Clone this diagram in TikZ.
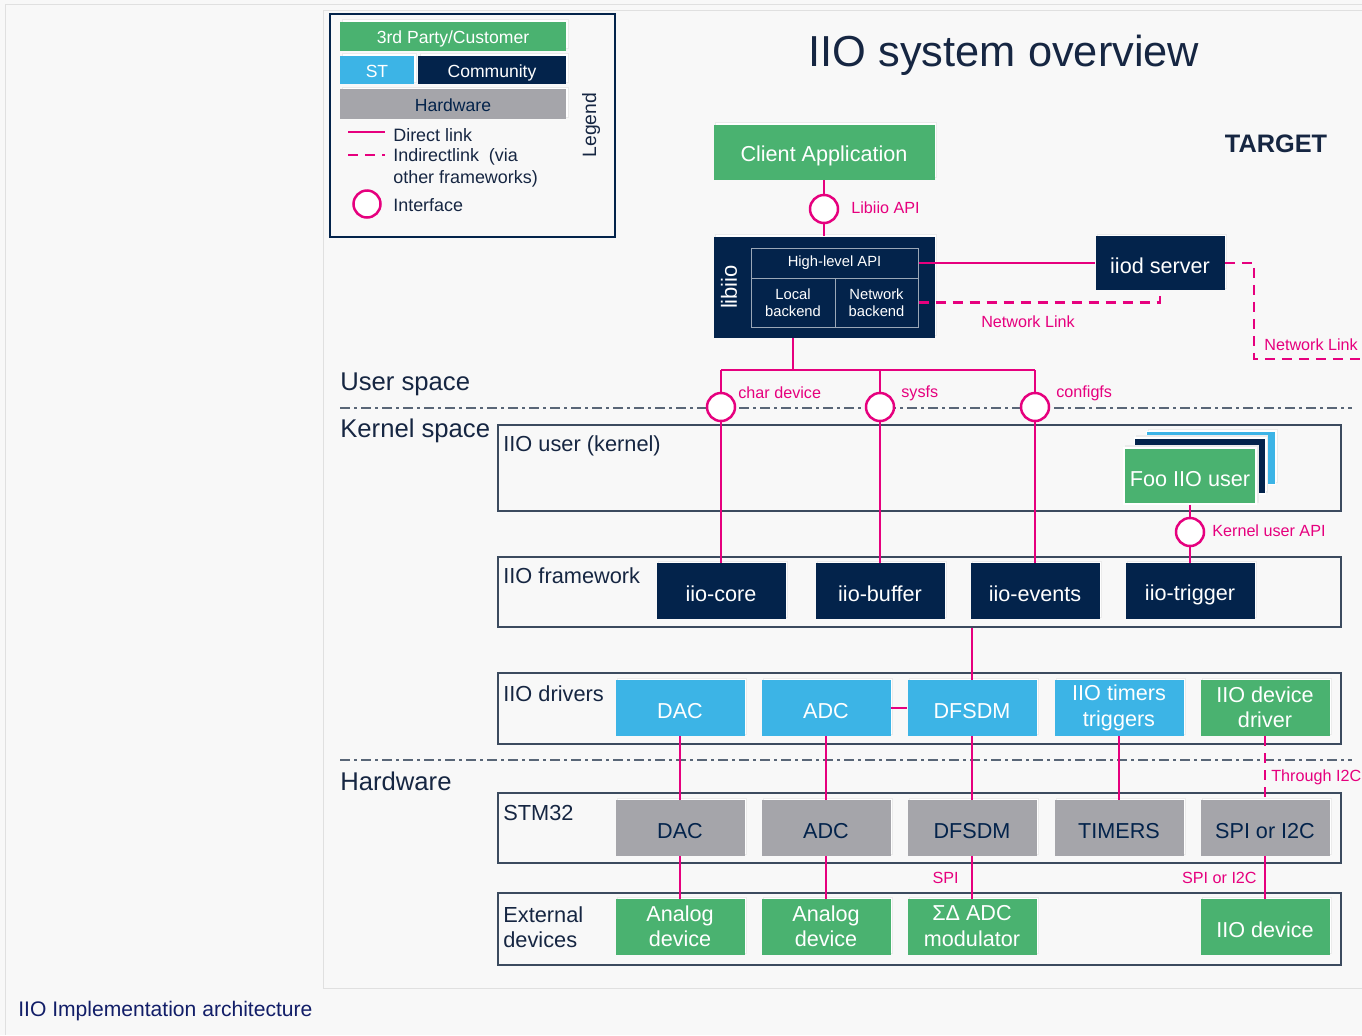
\documentclass[tikz,border=0pt]{standalone}
\usepackage{fontspec}
\setmainfont{Liberation Sans}
\usetikzlibrary{fit,shadows}
\newlength{\px}\setlength{\px}{0.02cm}
\newcommand{\topstrut}{\rule{0pt}{13.3pt}}
\newcommand{\botstrut}{\rule[-1.1pt]{0pt}{0pt}}
\newcommand{\legtop}{\rule{0pt}{11.6pt}}
\newcommand{\legbot}{\rule[-2.8pt]{0pt}{0pt}}
\newcommand{\talltop}{\rule{0pt}{17.5pt}}
\definecolor{stgreen}{RGB}{74,178,112}
\definecolor{stblue}{RGB}{60,180,230}
\definecolor{stnavy}{RGB}{3,35,75}
\definecolor{hwgray}{RGB}{165,165,170}
\definecolor{linkpink}{RGB}{230,0,126}
\definecolor{framegray}{RGB}{60,75,95}
\definecolor{bggray}{RGB}{248,248,248}
\definecolor{inktext}{RGB}{22,38,66}
\begin{document}
\begin{tikzpicture}[x=0.02cm, y=-0.02cm,
  box/.style={rectangle, minimum width=129\px, minimum height=56\px, inner sep=1pt, align=center,
    font=\fontsize{12.3}{14.5}\selectfont, execute at begin node=\topstrut, execute at end node=\botstrut,
    general shadow={fill=white, draw=black!8, shadow xshift=2\px, shadow yshift=2\px}},
  legbox/.style={font=\fontsize{10}{11}\selectfont, /utils/exec={\let\topstrut\legtop\let\botstrut\legbot}},
  two/.style={/utils/exec={\let\topstrut\talltop}},
  st/.style={box, fill=stblue, text=white},
  com/.style={box, fill=stnavy, text=white},
  cust/.style={box, fill=stgreen, text=white},
  hw/.style={box, fill=hwgray, text=stnavy},
  sub/.style={rectangle, draw=white!60!stnavy, line width=1\px, inner sep=0pt, align=center,
    text=white, font=\fontsize{8.4}{9.8}\selectfont},
  frame/.style={draw=framegray, line width=1.5\px, inner sep=0pt},
  lbl/.style={anchor=west, text=inktext, font=\fontsize{12.4}{14.5}\selectfont, inner sep=0pt},
  space/.style={anchor=west, text=inktext, font=\fontsize{14.6}{16}\selectfont, inner sep=0pt},
  leg/.style={anchor=west, text=inktext, font=\fontsize{10.2}{12.5}\selectfont, inner sep=0pt, align=left},
  link/.style={draw=linkpink, line width=2.5\px},
  ilink/.style={link, dash pattern=on 10\px off 7\px},
  itf/.style={circle, draw=linkpink, fill=white, line width=2.5\px, minimum size=28\px, inner sep=0pt},
  tag/.style={text=linkpink, font=\fontsize{9.2}{10.5}\selectfont, inner sep=0pt},
  sep/.style={draw=framegray!85, line width=1.5\px, dash pattern=on 10\px off 4\px on 3\px off 4\px}]

\useasboundingbox (0,0) rectangle (1362,1035);
\path[fill=bggray] (0,0) rectangle (1362,1035);
\path[draw=black!12] (5,1035) -- (5,4) -- (1362,4);
\path[draw=black!12] (1370,10) -- (323,10) -- (323,988) -- (1370,988);

\node[frame, draw=stnavy, line width=2.5\px, fit={(330,14) (615,237)}] (legend) {};
\node[cust, legbox, minimum width=226\px, minimum height=29\px] (l1) at (453,36) {3rd Party/Customer};
\node[st, legbox, minimum width=74\px, minimum height=28\px] (l2) at (377,70) {ST};
\node[com, legbox, minimum width=148\px, minimum height=28\px] (l3) at (492,70) {Community};
\node[hw, legbox, minimum width=226\px, minimum height=30\px] (l4) at (453,104) {Hardware};
\coordinate (d1) at (348,132);
\coordinate (d2) at (385,132);
\coordinate (d3) at (348,155);
\coordinate (d4) at (385,155);
\path[link] (d1) -- (d2);
\path[ilink] (d3) -- (d4);
\node[leg] at (393,135) {Direct link};
\node[leg] at (393,168) {Indirectlink~~(via\\other frameworks)};
\node[itf, minimum size=27\px] (l5) at (367,204) {};
\node[leg] at (393,205) {Interface};
\node[rotate=90, text=inktext, font=\fontsize{11}{13}\selectfont] at (591,125) {Legend};

\node[text=inktext, font=\fontsize{24.7}{28}\selectfont] at (1004,55) {IIO system overview};
\node[text=inktext, font=\bfseries\fontsize{14.4}{16}\selectfont] at (1276,144) {TARGET};

\node[cust, minimum width=221\px, minimum height=55\px] (app) at (824,152) {Client Application};
\node[itf] (api) at (824,209) {};
\node[tag, anchor=west] at (851,208) {Libiio API};
\node[com, minimum width=221\px, minimum height=101\px] (lib) at (824,287) {};
\node[rotate=90, text=white, font=\fontsize{12.5}{14}\selectfont] at (729,287) {libiio};
\node[sub, minimum width=167\px, minimum height=30\px] (hl) at (834.5,263) {High-level API};
\node[sub, minimum width=84\px, minimum height=49\px] (lb) at (793,302.5) {Local\\backend};
\node[sub, minimum width=83\px, minimum height=49\px] (nb) at (876.5,302.5) {Network\\backend};
\node[com, minimum width=129\px, minimum height=54\px] (iiod) at (1160,263) {iiod server};
\path[link] (app) -- (api) -- (lib);
\path[link] (hl.east) -- (iiod.west);
\path[ilink] (nb.east) -| (iiod.south);
\node[tag] at (1028,322) {Network Link};
\coordinate (n1) at (1254,359);
\coordinate (n2) at (1362,359);
\path[ilink] (iiod.east) -| (n1) -- (n2);
\node[tag, anchor=west] at (1264,345) {Network Link};

\node[space] at (340,384) {User space};
\coordinate (s1) at (340,408);
\coordinate (s2) at (1352,408);
\path[sep] (s1) -- (s2);
\node[space] at (340,431) {Kernel space};

\node[frame, fit={(498,425) (1341,511)}] (usr) {};
\node[lbl] at (503,446) {IIO user (kernel)};
\node[st, minimum width=129\px, minimum height=53\px, draw=white, line width=1.5\px] (foo3) at (1211,458) {};
\node[com, minimum width=131\px, minimum height=56\px, draw=white, line width=1.5\px] (foo2) at (1200,466) {};
\node[cust, minimum width=132\px, minimum height=56\px, draw=white, line width=1.5\px] (foo) at (1190,476) {Foo IIO user};

\node[frame, fit={(498,557) (1341,627)}] (fw) {};
\node[lbl] at (503,576) {IIO framework};
\node[com] (core) at (721,591) {iio-core};
\node[com] (buf) at (880,591) {iio-buffer};
\node[com] (evt) at (1035,591) {iio-events};
\node[com] (trig) at (1190,591) {iio-trigger};

\coordinate (b1) at (721,370);
\coordinate (b2) at (880,370);
\coordinate (b3) at (1035,370);
\path[link] (lb |- lib.south) -- (lb |- b1);
\path[link] (b1) -- (b3);
\node[itf] (cdev) at (721,407) {};
\node[itf] (sysfs) at (880,407) {};
\node[itf] (cfs) at (1035,407) {};
\node[tag, anchor=west] at (738,393) {char device};
\node[tag, anchor=west] at (901,393) {sysfs};
\node[tag, anchor=west] at (1056,393) {configfs};
\path[link] (b1) -- (cdev) -- (core);
\path[link] (b2) -- (sysfs) -- (buf);
\path[link] (b3) -- (cfs) -- (evt);
\node[itf] (kapi) at (1190,532) {};
\node[tag, anchor=west] at (1212,531) {Kernel user API};
\path[link] (foo) -- (kapi) -- (trig);

\node[frame, fit={(498,673) (1341,744)}] (drvs) {};
\node[lbl] at (503,694) {IIO drivers};
\node[st] (dac) at (680,708) {DAC};
\node[st] (adc) at (826,708) {ADC};
\node[st] (dfsdm) at (972,708) {DFSDM};
\node[st, two] (tim) at (1119,708) {IIO timers\\triggers};
\node[cust, two] (drv) at (1265,708) {IIO device\\driver};
\path[link] (adc) -- (dfsdm);
\path[link] (dfsdm |- fw.south) -- (dfsdm);

\coordinate (s3) at (340,760);
\coordinate (s4) at (1352,760);
\path[sep] (s3) -- (s4);
\node[space] at (340,781) {Hardware};

\node[frame, fit={(498,793) (1341,863)}] (stm) {};
\node[lbl] at (503,813) {STM32};
\node[hw] (hdac) at (680,828) {DAC};
\node[hw] (hadc) at (826,828) {ADC};
\node[hw] (hdfsdm) at (972,828) {DFSDM};
\node[hw] (htim) at (1119,828) {TIMERS};
\node[hw] (hspi) at (1265,828) {SPI or I2C};
\path[link] (dac) -- (hdac);
\path[link] (adc) -- (hadc);
\path[link] (dfsdm) -- (hdfsdm);
\path[link] (tim) -- (htim);
\path[ilink] (drv) -- (hspi);
\node[tag, anchor=west] at (1271,777) {Through I2C};

\node[frame, fit={(498,893) (1341,965)}] (ext) {};
\node[lbl, align=left] at (503,927) {External\\devices};
\node[cust] (ext1) at (680,927) {Analog\\device};
\node[cust] (ext2) at (826,927) {Analog\\device};
\node[cust] (ext3) at (972,927) {ΣΔ ADC\\modulator};
\node[cust] (ext4) at (1265,927) {IIO device};
\path[link] (hdac) -- (ext1);
\path[link] (hadc) -- (ext2);
\path[link] (hdfsdm) -- (ext3);
\path[link] (hspi) -- (ext4);
\node[tag, anchor=east] at (959,878) {SPI};
\node[tag, anchor=east] at (1257,878) {SPI or I2C};

\node[anchor=west, inner sep=0pt, text=inktext!80!blue, font=\fontsize{12}{14}\selectfont] at (18,1011) {IIO Implementation architecture};
\end{tikzpicture}
\end{document}
